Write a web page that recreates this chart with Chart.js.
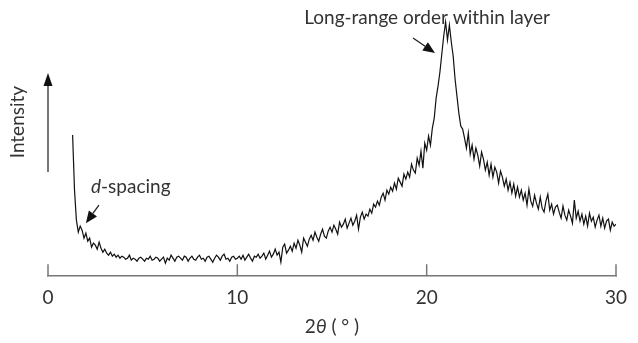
<!DOCTYPE html>
<html>
<head>
<meta charset="utf-8">
<script src="https://cdn.jsdelivr.net/npm/chart.js@4"></script>
<style>
  html, body { margin: 0; padding: 0; background: #fff; }
  #wrap { width: 638px; height: 343px; position: relative; }
</style>
</head>
<body>
<div id="wrap"><canvas id="chart-xrd"></canvas></div>
<script>
// ─────────────────────────────────────────────────────────────
// Data
// ─────────────────────────────────────────────────────────────

// 2θ sampling grid: first angle and scan step, degrees
const ANGLE_START = 1.3;
const ANGLE_STEP = 0.1;

// intensity, arbitrary units, one row per degree
const intensity = [
  141, 86, 56, 44, 50, 46, 38,                      // 1.3 – 1.9
  43, 35, 38, 29, 33, 31, 27, 34, 28, 24,           // 2
  27, 23, 21, 24, 20, 22, 19, 21, 18, 20,           // 3
  19, 17, 18, 21, 16, 18, 17, 15, 18, 19,           // 4
  17, 15, 18, 17, 20, 16, 17, 19, 18, 15,           // 5
  17, 19, 13, 18, 16, 21, 18, 15, 19, 20,           // 6
  18, 16, 20, 19, 15, 18, 20, 17, 16, 19,           // 7
  21, 17, 18, 15, 19, 20, 17, 14, 18, 21,           // 8
  19, 16, 20, 22, 17, 18, 15, 19, 20, 17,           // 9
  18, 20, 17, 21, 16, 19, 22, 18, 15, 20,           // 10
  19, 22, 18, 20, 23, 17, 21, 25, 19, 22,           // 11
  27, 21, 24, 14, 29, 32, 23, 26, 30, 25,           // 12
  33, 28, 36, 31, 24, 38, 34, 30, 37, 41,           // 13
  36, 44, 39, 35, 42, 47, 40, 38, 45, 49,           // 14
  44, 51, 47, 42, 54, 49, 52, 57, 48, 53,           // 15
  58, 51, 55, 61, 47, 59, 64, 57, 62, 60,           // 16
  67, 63, 72, 69, 75, 71, 79, 83, 76, 86,           // 17
  82, 89, 85, 93, 87, 98, 94, 90, 102, 97,          // 18
  104, 99, 112, 106, 103, 118, 111, 125, 108, 133,  // 19
  126, 140, 131, 148, 158, 178, 190, 204, 222, 240, // 20
  254, 236, 251, 234, 220, 197, 180, 163, 150, 147, // 21
  138, 128, 143, 122, 131, 117, 128, 121, 110, 124, // 22
  117, 106, 114, 101, 112, 99, 109, 104, 93, 105,   // 23
  99, 90, 97, 86, 94, 83, 92, 80, 89, 79,           // 24
  86, 76, 83, 71, 87, 75, 70, 81, 73, 67,           // 25
  79, 68, 64, 75, 82, 66, 72, 62, 69, 71,           // 26
  64, 58, 70, 61, 56, 66, 60, 53, 76, 58,           // 27
  65, 55, 62, 52, 60, 50, 63, 55, 59, 49,           // 28
  56, 61, 50, 58, 48, 55, 57, 46, 54, 50,           // 29
  52                                                // 30
];

const xTicks = [0, 10, 20, 30];
const X_RANGE = [0, 30];
const Y_RANGE = [0, 260];

// annotation anchors in data coordinates [2θ, intensity]
const peakLabel  = { text: 'Long-range order within layer', at: [20.02, 258] };
const peakArrow  = { from: [19.28, 238], to: [20.44, 223] };
const dLabel     = { at: [2.27, 89] };
const dArrow     = { from: [2.69, 71], to: [2.0, 53] };
const yArrow     = { from: [0, 104], to: [0, 203] };
const yLabel     = { text: 'Intensity', at: [-1.58, 154] };

// ─────────────────────────────────────────────────────────────
// Styles
// ─────────────────────────────────────────────────────────────

const FONT_FAMILY = "Lato, 'Open Sans', sans-serif";
const FONT_SIZE = 19;
const TEXT_COLOR = '#333';
const AXIS_COLOR = '#777';

const points = intensity.map((v, i) => ({
  x: +(ANGLE_START + i * ANGLE_STEP).toFixed(2),
  y: v,
}));

function drawArrow(ctx, x1, y1, x2, y2, color, lw, headLen, headW) {
  const ang = Math.atan2(y2 - y1, x2 - x1);
  const bx = x2 - headLen * Math.cos(ang);
  const by = y2 - headLen * Math.sin(ang);
  ctx.strokeStyle = color;
  ctx.fillStyle = '#111';
  ctx.lineWidth = lw;
  ctx.beginPath();
  ctx.moveTo(x1, y1);
  ctx.lineTo(bx, by);
  ctx.stroke();
  const nx = -Math.sin(ang) * headW / 2;
  const ny = Math.cos(ang) * headW / 2;
  ctx.beginPath();
  ctx.moveTo(x2, y2);
  ctx.lineTo(bx + nx, by + ny);
  ctx.lineTo(bx - nx, by - ny);
  ctx.closePath();
  ctx.fill();
}

// draws runs of [text, italic] one after another
function drawRuns(ctx, runs, x, y, align) {
  const fonts = runs.map(([, it]) => `${it ? 'italic ' : ''}${FONT_SIZE}px ${FONT_FAMILY}`);
  const widths = runs.map(([t], i) => { ctx.font = fonts[i]; return ctx.measureText(t).width; });
  const total = widths.reduce((a, b) => a + b, 0);
  let cx = align === 'center' ? x - total / 2 : x;
  ctx.textAlign = 'left';
  ctx.textBaseline = 'middle';
  ctx.fillStyle = TEXT_COLOR;
  runs.forEach(([t], i) => {
    ctx.font = fonts[i];
    ctx.fillText(t, cx, y);
    cx += widths[i];
  });
}

const overlayPlugin = {
  id: 'overlay',
  afterDraw(chart) {
    const { ctx, chartArea, scales: { x, y } } = chart;
    const px = (p) => [x.getPixelForValue(p[0]), y.getPixelForValue(p[1])];
    ctx.save();

    // tick marks point up into the plot
    ctx.strokeStyle = AXIS_COLOR;
    ctx.lineWidth = 1.5;
    xTicks.forEach(v => {
      const tx = x.getPixelForValue(v);
      ctx.beginPath();
      ctx.moveTo(tx, chartArea.bottom);
      ctx.lineTo(tx, chartArea.bottom - 12);
      ctx.stroke();
    });

    // x axis title: 2θ ( ° )
    drawRuns(ctx, [['2', false], ['θ', true], [' ( ° )', false]],
      x.getPixelForValue(15), chartArea.bottom + 51, 'center');

    // intensity arrow + label
    const [ax1, ay1] = px(yArrow.from);
    const [ax2, ay2] = px(yArrow.to);
    drawArrow(ctx, ax1, ay1, ax2, ay2, '#555', 1.6, 13, 9);
    const [lx, ly] = px(yLabel.at);
    ctx.save();
    ctx.translate(lx, ly);
    ctx.rotate(-Math.PI / 2);
    drawRuns(ctx, [[yLabel.text, false]], 0, 0, 'center');
    ctx.restore();

    // peak annotation
    const [plx, ply] = px(peakLabel.at);
    drawRuns(ctx, [[peakLabel.text, false]], plx, ply, 'center');
    const [p1x, p1y] = px(peakArrow.from);
    const [p2x, p2y] = px(peakArrow.to);
    drawArrow(ctx, p1x, p1y, p2x, p2y, '#222', 1.3, 12, 10);

    // d-spacing annotation
    const [dlx, dly] = px(dLabel.at);
    drawRuns(ctx, [['d', true], ['-spacing', false]], dlx, dly, 'left');
    const [d1x, d1y] = px(dArrow.from);
    const [d2x, d2y] = px(dArrow.to);
    drawArrow(ctx, d1x, d1y, d2x, d2y, '#222', 1.3, 12, 10);

    ctx.restore();
  },
};

new Chart(document.getElementById('chart-xrd'), { // eslint-disable-line no-undef
  type: 'line',
  data: {
    datasets: [{
      data: points,
      borderColor: '#111',
      borderWidth: 1.2,
      pointRadius: 0,
      tension: 0,
      fill: false,
    }],
  },
  options: {
    responsive: true,
    maintainAspectRatio: false,
    animation: false,
    layout: { padding: { left: 48, right: 22, top: 16, bottom: 24 } },
    plugins: { legend: { display: false }, tooltip: { enabled: false } },
    scales: {
      x: {
        type: 'linear',
        min: X_RANGE[0],
        max: X_RANGE[1],
        afterBuildTicks: (s) => { s.ticks = xTicks.map(v => ({ value: v })); },
        grid: { display: false, drawTicks: false },
        border: { display: true, color: AXIS_COLOR, width: 1.5 },
        ticks: {
          color: TEXT_COLOR,
          padding: 10,
          maxRotation: 0,
          font: { family: FONT_FAMILY, size: FONT_SIZE },
        },
      },
      y: {
        display: false,
        min: Y_RANGE[0],
        max: Y_RANGE[1],
      },
    },
  },
  plugins: [overlayPlugin],
});
</script>
</body>
</html>
